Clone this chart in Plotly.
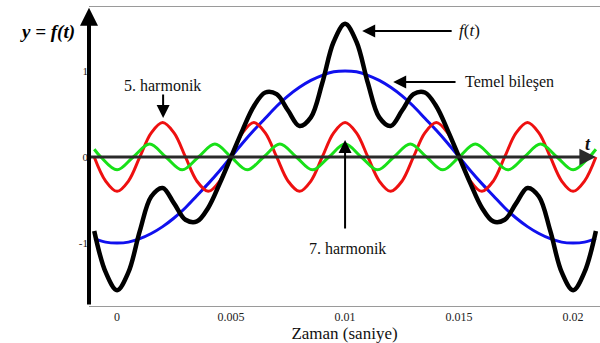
import plotly.graph_objects as go

# Sample times (s), one period of the fundamental is 0.02 s
t = [-0.001, -0.0005, 0.0, 0.0005, 0.001, 0.0015, 0.002, 0.0025, 0.003, 0.0035,
     0.004, 0.0045, 0.005, 0.0055, 0.006, 0.0065, 0.007, 0.0075, 0.008, 0.0085,
     0.009, 0.0095, 0.01, 0.0105, 0.011, 0.0115, 0.012, 0.0125, 0.013, 0.0135,
     0.014, 0.0145, 0.015, 0.0155, 0.016, 0.0165, 0.017, 0.0175, 0.018, 0.0185,
     0.019, 0.0195, 0.02, 0.0205, 0.021]

# Fundamental component
temel = [-0.95, -0.99, -1.00, -0.99, -0.95, -0.89, -0.81, -0.71, -0.59, -0.45,
         -0.31, -0.16, 0.00, 0.16, 0.31, 0.45, 0.59, 0.71, 0.81, 0.89,
         0.95, 0.99, 1.00, 0.99, 0.95, 0.89, 0.81, 0.71, 0.59, 0.45,
         0.31, 0.16, 0.00, -0.16, -0.31, -0.45, -0.59, -0.71, -0.81, -0.89,
         -0.95, -0.99, -1.00, -0.99, -0.95]

# 5th harmonic
harm5 = [0.00, -0.28, -0.40, -0.28, 0.00, 0.28, 0.40, 0.28, 0.00, -0.28,
         -0.40, -0.28, 0.00, 0.28, 0.40, 0.28, 0.00, -0.28, -0.40, -0.28,
         0.00, 0.28, 0.40, 0.28, 0.00, -0.28, -0.40, -0.28, 0.00, 0.28,
         0.40, 0.28, 0.00, -0.28, -0.40, -0.28, 0.00, 0.28, 0.40, 0.28,
         0.00, -0.28, -0.40, -0.28, 0.00]

# 7th harmonic, sampled at its peaks and zero crossings
t7 = [-0.001, -0.00071, 0.0, 0.00071, 0.00143, 0.00214, 0.00286, 0.00357, 0.00429,
      0.005, 0.00571, 0.00643, 0.00714, 0.00786, 0.00857, 0.00929, 0.01, 0.01071,
      0.01143, 0.01214, 0.01286, 0.01357, 0.01429, 0.015, 0.01571, 0.01643,
      0.01714, 0.01786, 0.01857, 0.01929, 0.02, 0.02071, 0.021]
harm7 = [0.09, 0.00, -0.15, 0.00, 0.15, 0.00, -0.15, 0.00, 0.15,
         0.00, -0.15, 0.00, 0.15, 0.00, -0.15, 0.00, 0.15, 0.00,
         -0.15, 0.00, 0.15, 0.00, -0.15, 0.00, 0.15, 0.00,
         -0.15, 0.00, 0.15, 0.00, -0.15, 0.00, 0.09]

# Resulting waveform f(t)
ft = [-0.86, -1.34, -1.55, -1.34, -0.86, -0.46, -0.36, -0.54, -0.73, -0.75,
      -0.59, -0.31, 0.00, 0.31, 0.59, 0.75, 0.73, 0.54, 0.36, 0.46,
      0.86, 1.34, 1.55, 1.34, 0.86, 0.46, 0.36, 0.54, 0.73, 0.75,
      0.59, 0.31, 0.00, -0.31, -0.59, -0.75, -0.73, -0.54, -0.36, -0.46,
      -0.86, -1.34, -1.55, -1.34, -0.86]

x_ticks = [0, 0.005, 0.01, 0.015, 0.02]
x_tick_text = ["0", "0.005", "0.01", "0.015", "0.02"]
y_ticks = [-1, 0, 1]
y_tick_text = ["-1", "0", "1"]

X_MIN, X_MAX = -0.00123, 0.02118
Y_MIN, Y_MAX = -1.733, 1.744
SERIF = "Liberation Serif"

fig = go.Figure()
for xs, ys, col, w in [(t, temel, "#1010ee", 3), (t, harm5, "#ee1010", 3),
                       (t7, harm7, "#18e018", 3), (t, ft, "#000000", 4.5)]:
    fig.add_trace(go.Scatter(x=xs, y=ys, mode="lines",
                             line=dict(color=col, width=w, shape="spline", smoothing=1.0),
                             hoverinfo="skip", showlegend=False))

ann = []
# t axis with arrow
ann.append(dict(x=0.0210, y=0, ax=X_MIN, ay=0, xref="x", yref="y", axref="x", ayref="y",
                text="", showarrow=True, arrowhead=2, arrowsize=1.1, arrowwidth=3,
                arrowcolor="#2a2a2a"))
# y axis with arrow
ann.append(dict(x=X_MIN, y=Y_MAX - 0.01, ax=X_MIN, ay=Y_MIN, xref="x", yref="y",
                axref="x", ayref="y", text="", showarrow=True, arrowhead=2,
                arrowsize=0.9, arrowwidth=4, arrowcolor="#000000"))
# pointer arrows
for (hx, hy, tx, ty) in [(0.01075, 1.465, 0.01474, 1.465),
                         (0.01211, 0.872, 0.01491, 0.872),
                         (0.00202, 0.453, 0.00202, 0.744),
                         (0.01, 0.198, 0.01, -0.849)]:
    ann.append(dict(x=hx, y=hy, ax=tx, ay=ty, xref="x", yref="y", axref="x", ayref="y",
                    text="", showarrow=True, arrowhead=2, arrowsize=1.3, arrowwidth=2,
                    arrowcolor="#000000"))
# labels
ann.append(dict(x=0.01491, y=1.465, xref="x", yref="y", text="<i>f</i>(<i>t</i>)",
                showarrow=False, xanchor="left", font=dict(family=SERIF, size=17, color="#111")))
ann.append(dict(x=0.01518, y=0.872, xref="x", yref="y", text="Temel bileşen",
                showarrow=False, xanchor="left", font=dict(family=SERIF, size=16, color="#111")))
ann.append(dict(x=0.00200, y=0.83, xref="x", yref="y", text="5. harmonik",
                showarrow=False, xanchor="center", font=dict(family=SERIF, size=16, color="#111")))
ann.append(dict(x=0.0101, y=-1.07, xref="x", yref="y", text="7. harmonik",
                showarrow=False, xanchor="center", font=dict(family=SERIF, size=16, color="#111")))
ann.append(dict(x=0.02065, y=0.15, xref="x", yref="y", text="<b><i>t</i></b>",
                showarrow=False, xanchor="center", font=dict(family=SERIF, size=18, color="#111")))
ann.append(dict(x=-0.082, y=0.915, xref="paper", yref="paper", text="<b><i>y = f(t)</i></b>",
                showarrow=False, xanchor="center", yanchor="middle",
                font=dict(family=SERIF, size=19, color="#000")))

fig.update_layout(
    width=600, height=343,
    margin=dict(l=89, r=0, t=7, b=37),
    paper_bgcolor="white", plot_bgcolor="white",
    annotations=ann,
    xaxis=dict(range=[X_MIN, X_MAX], tickvals=x_ticks, ticktext=x_tick_text,
               showgrid=False, zeroline=False, showline=True, linecolor="#9a9a9a",
               linewidth=1, mirror=True, ticks="", automargin=False,
               tickfont=dict(family=SERIF, size=12, color="#222"),
               title=dict(text="Zaman (saniye)", standoff=8,
                          font=dict(family=SERIF, size=17, color="#111"))),
    yaxis=dict(range=[Y_MIN, Y_MAX], tickvals=y_ticks, ticktext=y_tick_text,
               showgrid=False, zeroline=False, showline=False, ticks="",
               tickfont=dict(family=SERIF, size=11, color="#222")),
)

fig.write_html("out.html")
